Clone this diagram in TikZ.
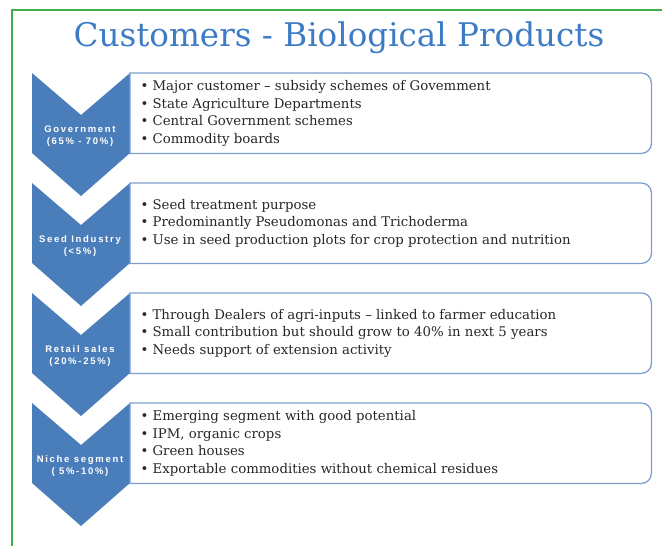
\documentclass[tikz,border=0pt]{standalone}
\usepackage{fontspec}
\setmainfont{DejaVu Serif}
\newfontfamily\segfont[LetterSpace=18]{Liberation Sans}
\usepackage{tikz}
\usetikzlibrary{positioning,calc}
\definecolor{chevc}{HTML}{4A7EBB}
\definecolor{edgec}{HTML}{7E9ECE}
\definecolor{titlec}{HTML}{3D7CC4}
\definecolor{framec}{HTML}{3FAE49}
\definecolor{textc}{HTML}{262626}
\newcommand{\itm}[1]{\textbullet\ #1}

\begin{document}
\begin{tikzpicture}[x=1pt, y=1pt,
  chev/.style={fill=chevc},
  seg/.style={text=white, font=\segfont\bfseries\fontsize{9.5}{12.5}\selectfont, align=center},
  panel/.style={minimum width=521pt, minimum height=80pt, anchor=north west, inner sep=0pt},
  list/.style={text=textc, align=left, font=\fontsize{13.3}{17.5}\selectfont},
  boxline/.style={draw=edgec, line width=1.3pt}]
  \useasboundingbox (0,0) rectangle (662,-546);
  \draw[framec, line width=1.2pt] (12,-546) -- (12,-10) -- (662,-10);
  \node[font=\fontsize{32.6}{36}\selectfont, text=titlec] (title) at (339,-38) {Customers - Biological Products};
  % one chevron and one panel per segment
  \foreach \i/\name/\share in {0/Government/{(65\% - 70\%)}, 1/Seed Industry/{(<5\%)}, 2/Retail sales/{(20\%-25\%)}, 3/Niche segment/{( 5\%-10\%)}}{
    \pgfmathsetmacro{\t}{-73-110*\i}
    \fill[chev] (32,\t) -- (81,\t-42) -- (130,\t) -- (130,\t-80) -- (81,\t-123) -- (32,\t-80) -- cycle;
    \node[seg] (seg\i) at (80,\t-63) {\name\\\share};
    \node[panel] (box\i) at (130,\t) {};
    \draw[boxline] (box\i.north west) -- ([xshift=-10pt]box\i.north east) arc[start angle=90, end angle=0, radius=10pt]
      -- ([yshift=10pt]box\i.south east) arc[start angle=0, end angle=-90, radius=10pt] -- (box\i.south west) -- cycle;
  }
  \node[list, right=7pt of box0.west] (list0) {\itm{Major customer -- subsidy schemes of Govemment}\\ \itm{State Agriculture Departments}\\ \itm{Central Government schemes}\\ \itm{Commodity boards}};
  \node[list, right=7pt of box1.west] (list1) {\itm{Seed treatment purpose}\\ \itm{Predominantly Pseudomonas and Trichoderma}\\ \itm{Use in seed production plots for crop protection and nutrition}};
  \node[list, right=7pt of box2.west] (list2) {\itm{Through Dealers of agri-inputs -- linked to farmer education}\\ \itm{Small contribution but should grow to 40\% in next 5 years}\\ \itm{Needs support of extension activity}};
  \node[list, right=7pt of box3.west] (list3) {\itm{Emerging segment with good potential}\\ \itm{IPM, organic crops}\\ \itm{Green houses}\\ \itm{Exportable commodities without chemical residues}};
\end{tikzpicture}
\end{document}
